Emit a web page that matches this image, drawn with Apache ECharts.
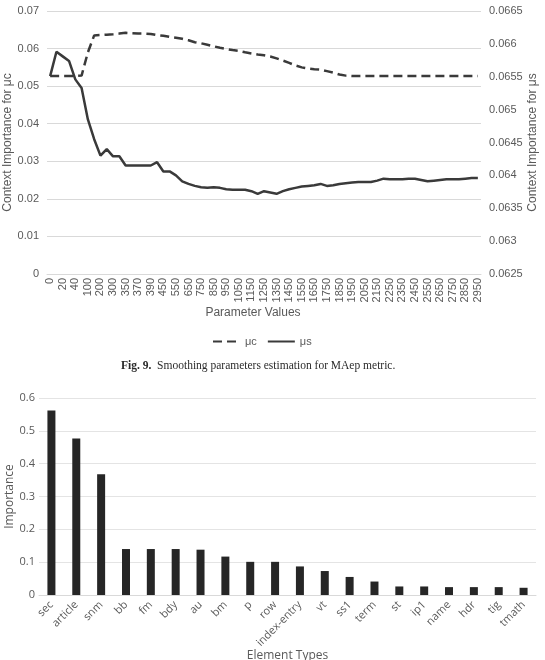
<!DOCTYPE html>
<html>
<head>
<meta charset="utf-8">
<script src="https://cdn.jsdelivr.net/npm/echarts@6/dist/echarts.min.js"></script>
<style>
html,body{margin:0;padding:0;background:#fff;}
#main{width:545px;height:660px;}
</style>
</head>
<body>
<div id="main"></div>
<script>
// ---- Top chart (Fig. 9) data ----
const paramValues = ['0','10','20','30','40','70','100','150','200','250','300','330','350','360','370','380','390','420',
  '450','500','550','600','650','700','750','800','850','900','950','1000','1050','1100','1150','1200','1250','1300',
  '1350','1400','1450','1500','1550','1600','1650','1700','1750','1800','1850','1900','1950','2000','2050','2100',
  '2150','2200','2250','2300','2350','2400','2450','2500','2550','2600','2650','2700','2750','2800','2850','2900','2950'];

const muC = [0.0527,0.0527,0.0527,0.0527,0.0527,0.0528,0.0590,0.0635,0.0636,0.0637,0.0638,0.0640,0.0642,0.0641,0.0640,0.0640,0.0639,0.0636,
  0.0634,0.0631,0.0629,0.0626,0.0622,0.0617,0.0614,0.0610,0.0606,0.0602,0.0599,0.0596,0.0594,0.0590,0.0587,0.0584,0.0582,0.0579,
  0.0574,0.0568,0.0562,0.0555,0.0550,0.0547,0.0545,0.0544,0.0540,0.0536,0.0531,0.0528,0.0527,0.0527,0.0527,0.0527,
  0.0527,0.0527,0.0527,0.0527,0.0527,0.0527,0.0527,0.0527,0.0527,0.0527,0.0527,0.0527,0.0527,0.0527,0.0527,0.0527,0.0527];

const muS = [0.06551,0.06588,0.06581,0.06574,0.06546,0.06533,0.06485,0.06455,0.06430,0.06440,0.06429,0.06429,0.06415,0.06415,0.06415,0.06415,0.06415,0.06420,
  0.06406,0.06406,0.06400,0.06391,0.06387,0.06384,0.06382,0.06381,0.06382,0.06381,0.06379,0.06378,0.06378,0.06378,0.06376,0.06372,0.06376,0.06374,
  0.06372,0.06376,0.06379,0.06381,0.06383,0.06384,0.06385,0.06387,0.06384,0.06385,0.06387,0.06388,0.06389,0.06390,0.06390,0.06390,
  0.06392,0.06395,0.06394,0.06394,0.06394,0.06395,0.06395,0.06393,0.06391,0.06392,0.06393,0.06394,0.06394,0.06394,0.06395,0.06396,0.06396];

const seriesNames = ['\u03bcc', '\u03bcs'];

// ---- Bottom chart data ----
const elementTypes = ['sec','article','snm','bb','fm','bdy','au','bm','p','row','index-entry','vt','ss1','term','st','ip1','name','hdr','tig','tmath'];
const importance = [0.562,0.477,0.368,0.140,0.140,0.140,0.138,0.117,0.101,0.101,0.087,0.073,0.055,0.041,0.026,0.026,0.024,0.024,0.024,0.022];

const gridColor = '#d9d9d9';
const labelColor = '#595959';
const sans = 'Liberation Sans, Arial, sans-serif';
const open = 'Open Sans, sans-serif';

const chart = echarts.init(document.getElementById('main'), null, {renderer: 'canvas'});
chart.setOption({
  animation: false,
  backgroundColor: '#fff',
  title: {
    text: '{b|Fig. 9.}  Smoothing parameters estimation for MAep metric.',
    left: 121,
    top: 360,
    padding: 0,
    textStyle: {
      fontFamily: 'Liberation Serif, serif',
      fontSize: 11.5,
      fontWeight: 'normal',
      color: '#2b2b2b',
      rich: { b: { fontFamily: 'Liberation Serif, serif', fontWeight: 'bold', fontSize: 11.5, color: '#2b2b2b' } }
    }
  },
  legend: {
    data: seriesNames,
    top: 336,
    left: 212,
    padding: 0,
    itemWidth: 27,
    itemHeight: 10,
    itemGap: 10,
    itemStyle: { opacity: 0 },
    textStyle: { fontFamily: sans, fontSize: 11, color: labelColor }
  },
  grid: [
    { left: 47, top: 11, width: 434, height: 263, containLabel: false, outerBoundsMode: 'none' },
    { left: 39, top: 398, width: 497, height: 197, containLabel: false, outerBoundsMode: 'none' }
  ],
  xAxis: [
    {
      type: 'category', gridIndex: 0, data: paramValues, boundaryGap: true,
      axisTick: { show: false },
      axisLine: { lineStyle: { color: gridColor } },
      axisLabel: { rotate: 90, interval: 1, fontFamily: sans, fontSize: 11, color: labelColor, margin: 4 },
      name: 'Parameter Values', nameLocation: 'middle', nameGap: 33, nameMoveOverlap: false,
      nameTextStyle: { fontFamily: sans, fontSize: 12, color: labelColor, padding: [0, 22, 0, 0] }
    },
    {
      type: 'category', gridIndex: 1, data: elementTypes, boundaryGap: true,
      axisTick: { show: false },
      axisLine: { lineStyle: { color: gridColor } },
      axisLabel: { rotate: 45, interval: 0, fontFamily: open, fontSize: 11, color: labelColor, margin: 8 },
      name: 'Element Types', nameLocation: 'middle', nameGap: 55, nameMoveOverlap: false,
      nameTextStyle: { fontFamily: open, fontSize: 12, color: labelColor }
    }
  ],
  yAxis: [
    {
      type: 'value', gridIndex: 0, min: 0, max: 0.07, interval: 0.01, position: 'left',
      axisLine: { show: false }, axisTick: { show: false },
      splitLine: { lineStyle: { color: gridColor } },
      axisLabel: { fontFamily: sans, fontSize: 11, color: labelColor, margin: 8 },
      name: 'Context Importance for \u03bcc', nameLocation: 'middle', nameGap: 33, nameRotate: 90, nameMoveOverlap: false,
      nameTextStyle: { fontFamily: sans, fontSize: 12, color: labelColor }
    },
    {
      type: 'value', gridIndex: 0, min: 0.0625, max: 0.0665, interval: 0.0005, position: 'right',
      axisLine: { show: false }, axisTick: { show: false },
      splitLine: { show: false },
      axisLabel: { fontFamily: sans, fontSize: 11, color: labelColor, margin: 8 },
      name: 'Context Importance for \u03bcs', nameLocation: 'middle', nameGap: 46, nameRotate: 90, nameMoveOverlap: false,
      nameTextStyle: { fontFamily: sans, fontSize: 12, color: labelColor }
    },
    {
      type: 'value', gridIndex: 1, min: 0, max: 0.6, interval: 0.1,
      axisLine: { show: false }, axisTick: { show: false },
      splitLine: { lineStyle: { color: '#e4e4e4' } },
      axisLabel: { fontFamily: open, fontSize: 11, color: labelColor, margin: 4 },
      name: 'Importance', nameLocation: 'middle', nameGap: 23, nameRotate: 90, nameMoveOverlap: false,
      nameTextStyle: { fontFamily: open, fontSize: 12, color: labelColor }
    }
  ],
  series: [
    {
      name: seriesNames[0], type: 'line', xAxisIndex: 0, yAxisIndex: 0, data: muC,
      symbol: 'none', smooth: false,
      lineStyle: { color: '#3a3a3a', width: 2.5, type: [9, 5] },
      itemStyle: { color: '#3a3a3a' }
    },
    {
      name: seriesNames[1], type: 'line', xAxisIndex: 0, yAxisIndex: 1, data: muS,
      symbol: 'none', smooth: false,
      lineStyle: { color: '#3a3a3a', width: 2.5 },
      itemStyle: { color: '#3a3a3a' }
    },
    {
      name: 'Importance', type: 'bar', xAxisIndex: 1, yAxisIndex: 2, data: importance,
      barWidth: 8, itemStyle: { color: '#262626' }
    }
  ]
});
</script>
</body>
</html>
